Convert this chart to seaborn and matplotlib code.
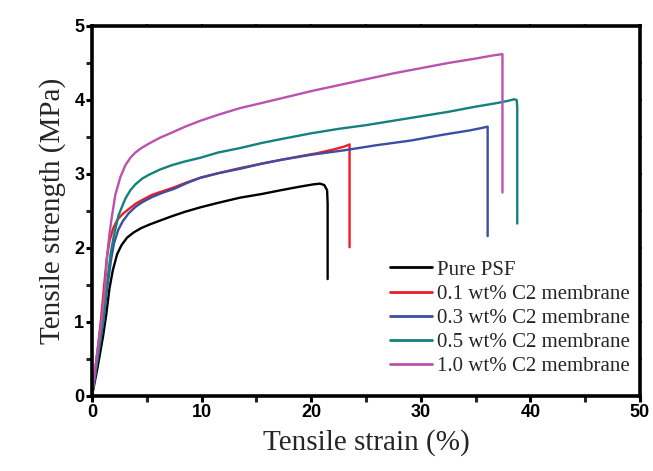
import numpy as np
import pandas as pd
import matplotlib
matplotlib.use("Agg")
import matplotlib.pyplot as plt
import seaborn as sns
from matplotlib.ticker import MultipleLocator

# Stress-strain curves (strain in %, stress in MPa)
psf_strain = [0, 0.5, 1.0, 1.3, 1.59, 1.9, 2.3, 2.7, 3.2, 3.8, 4.5, 5.3, 6.2, 7.3, 8.5, 9.9,
              11.5, 13.5, 15.5, 17.2, 19.0, 20.2, 20.8, 21.2, 21.45, 21.5, 21.5]
psf_stress = [0, 0.38, 0.80, 1.10, 1.45, 1.70, 1.92, 2.04, 2.14, 2.21, 2.27, 2.32, 2.37, 2.43,
              2.49, 2.55, 2.61, 2.68, 2.73, 2.78, 2.83, 2.86, 2.87, 2.85, 2.78, 2.60, 1.58]

c01_strain = [0, 0.4, 0.82, 1.10, 1.34, 1.6, 1.95, 2.3, 2.8, 3.3, 4.0, 4.6, 5.5, 6.5, 7.5,
              8.7, 9.9, 11.5, 13.5, 15.5, 17.2, 19.0, 20.5, 22.0, 23.0, 23.5, 23.5]
c01_stress = [0, 0.48, 1.03, 1.48, 1.85, 2.10, 2.27, 2.38, 2.46, 2.52, 2.60, 2.65, 2.72, 2.77,
              2.82, 2.89, 2.95, 3.01, 3.08, 3.14, 3.19, 3.24, 3.28, 3.33, 3.37, 3.40, 2.01]

c03_strain = [0, 0.5, 1.04, 1.40, 1.75, 2.0, 2.38, 2.8, 3.35, 4.0, 4.6, 5.5, 6.5, 7.5, 8.7,
              9.9, 11.5, 13.5, 15.5, 17.2, 20.0, 23.0, 26.0, 29.0, 32.0, 34.5, 35.5, 36.1, 36.1]
c03_stress = [0, 0.50, 1.03, 1.48, 1.85, 2.06, 2.24, 2.36, 2.47, 2.56, 2.62, 2.69, 2.75, 2.80,
              2.88, 2.95, 3.01, 3.07, 3.14, 3.19, 3.26, 3.32, 3.39, 3.45, 3.53, 3.59, 3.62, 3.64, 2.16]

c05_strain = [0, 0.5, 1.04, 1.34, 1.71, 2.0, 2.44, 3.05, 3.5, 3.96, 4.6, 5.2, 6.2, 7.3, 8.5,
              9.9, 11.5, 13.5, 15.5, 17.2, 20.0, 22.5, 25.0, 27.5, 30.0, 32.5, 35.0, 37.0,
              38.0, 38.5, 38.75, 38.8, 38.8]
c05_stress = [0, 0.50, 1.03, 1.48, 1.93, 2.17, 2.45, 2.67, 2.78, 2.86, 2.94, 2.99, 3.06, 3.12,
              3.17, 3.22, 3.29, 3.35, 3.42, 3.47, 3.55, 3.61, 3.66, 3.72, 3.78, 3.84, 3.91, 3.96,
              3.99, 4.01, 4.00, 3.90, 2.33]

c10_strain = [0, 0.4, 0.88, 1.19, 1.40, 1.62, 1.83, 2.13, 2.59, 3.05, 3.5, 3.96, 4.5, 5.18,
              6.2, 7.3, 8.5, 9.9, 11.5, 13.5, 15.5, 17.2, 20.0, 22.5, 25.0, 27.5, 30.0, 32.5,
              35.0, 36.5, 37.45, 37.45]
c10_stress = [0, 0.50, 1.03, 1.48, 1.93, 2.22, 2.44, 2.72, 2.96, 3.12, 3.22, 3.29, 3.35, 3.41,
              3.49, 3.56, 3.64, 3.72, 3.80, 3.89, 3.96, 4.02, 4.12, 4.20, 4.28, 4.36, 4.43, 4.50,
              4.56, 4.60, 4.62, 2.75]

labels = ["Pure PSF", "0.1 wt% C2 membrane", "0.3 wt% C2 membrane",
          "0.5 wt% C2 membrane", "1.0 wt% C2 membrane"]
colors = ["#000000", "#ee1c25", "#3a4ea3", "#13817d", "#bb52ad"]

series = [(psf_strain, psf_stress), (c01_strain, c01_stress), (c03_strain, c03_stress),
          (c05_strain, c05_stress), (c10_strain, c10_stress)]
frames = []
for lab, (xs, ys) in zip(labels, series):
    frames.append(pd.DataFrame({"strain": xs, "stress": ys, "sample": lab}))
df = pd.concat(frames, ignore_index=True)

sns.set_style("ticks")
plt.rcParams["font.family"] = ["Liberation Serif", "DejaVu Serif"]

fig = plt.figure(figsize=(6.53, 4.71), dpi=100)
ax = fig.add_axes([92 / 653, 75 / 471, 548 / 653, 370 / 471])

sns.lineplot(data=df, x="strain", y="stress", hue="sample", hue_order=labels,
             palette=colors, sort=False, estimator=None, units="sample",
             linewidth=1.7, ax=ax, legend=True)
for ln in ax.lines:
    ln.set_solid_joinstyle("round")
    ln.set_solid_capstyle("round")

ax.set_xlim(0, 50)
ax.set_ylim(0, 5)
ax.xaxis.set_major_locator(MultipleLocator(10))
ax.xaxis.set_minor_locator(MultipleLocator(5))
ax.yaxis.set_major_locator(MultipleLocator(1))
ax.yaxis.set_minor_locator(MultipleLocator(0.5))

for sp in ax.spines.values():
    sp.set_visible(True)
    sp.set_linewidth(2.6)
    sp.set_color("black")

ax.tick_params(which="major", direction="out", length=4.5, width=2.2, pad=1,
               bottom=True, left=True, colors="black")
ax.tick_params(which="minor", direction="out", length=4.0, width=2.2,
               bottom=True, left=True)
ax.tick_params(which="both", top=True, right=True)
for t in ax.xaxis.get_major_ticks() + ax.xaxis.get_minor_ticks():
    t.tick2line.set_markersize(1.5)
    t.tick2line.set_markeredgewidth(1.6)
for t in ax.yaxis.get_major_ticks() + ax.yaxis.get_minor_ticks():
    t.tick2line.set_markersize(1.5)
    t.tick2line.set_markeredgewidth(1.6)

for lab in ax.get_xticklabels() + ax.get_yticklabels():
    lab.set_fontfamily("Liberation Sans")
    lab.set_fontweight("bold")
    lab.set_fontsize(13)

ax.set_xlabel("Tensile strain (%)", fontsize=21, labelpad=6)
ax.set_ylabel("Tensile strength (MPa)", fontsize=21, labelpad=6)

handles = ax.get_legend().legend_handles
leg = ax.legend(handles=handles, labels=labels, loc="center left",
                bbox_to_anchor=(0.544, 0.21), frameon=False, fontsize=15,
                handlelength=2.0, handletextpad=0.25, labelspacing=0.22,
                borderpad=0, borderaxespad=0)
for h in leg.legend_handles:
    h.set_linewidth(2.0)

fig.savefig("out.png", dpi=100)
